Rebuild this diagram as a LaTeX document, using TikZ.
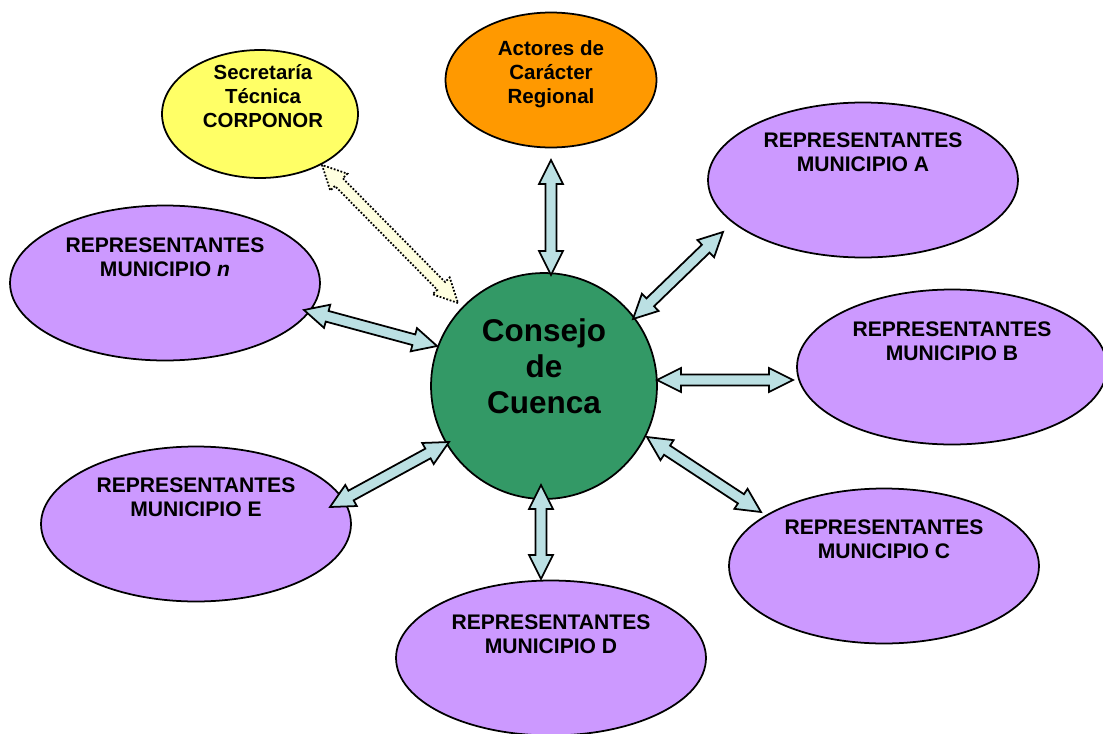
\documentclass[tikz,border=0pt]{standalone}
\usepackage{fontspec}
\setmainfont{Liberation Sans}
\usetikzlibrary{calc,shapes.geometric}

\definecolor{lila}{HTML}{CC99FF}
\definecolor{amarillo}{HTML}{FFFF66}
\definecolor{naranja}{HTML}{FF9900}
\definecolor{verde}{HTML}{339966}
\definecolor{celeste}{HTML}{BBE0E3}
\definecolor{crema}{HTML}{FFFFE0}

\newcommand{\arrHead}{0.48cm}
\newcommand{\arrHalf}{0.24cm}
\newcommand{\arrShaft}{0.11cm}
% flecha doble de bloque entre dos puntos
\newcommand{\blockarrow}[3][flecha]{%
  \draw[#1] (#2)
    -- ($(#2)!\arrHead!(#3)!\arrHalf!90:(#3)$)
    -- ($(#2)!\arrHead!(#3)!\arrShaft!90:(#3)$)
    -- ($(#3)!\arrHead!(#2)!\arrShaft!-90:(#2)$)
    -- ($(#3)!\arrHead!(#2)!\arrHalf!-90:(#2)$)
    -- (#3)
    -- ($(#3)!\arrHead!(#2)!\arrHalf!90:(#2)$)
    -- ($(#3)!\arrHead!(#2)!\arrShaft!90:(#2)$)
    -- ($(#2)!\arrHead!(#3)!\arrShaft!-90:(#3)$)
    -- ($(#2)!\arrHead!(#3)!\arrHalf!-90:(#3)$)
    -- cycle;}

\begin{document}
\begin{tikzpicture}[x=0.02cm,y=-0.02cm,
    muni/.style={ellipse,draw,fill=lila,line width=1pt,minimum width=6.2cm,minimum height=3.1cm},
    rotulo/.style={font=\bfseries\fontsize{12}{13.6}\selectfont,align=center},
    flecha/.style={fill=celeste,line width=1pt,line join=miter},
    punteada/.style={fill=crema,densely dotted,line width=1pt}]

\useasboundingbox (0,0) rectangle (1103,734);

% elipses
\node[ellipse,draw,fill=amarillo,line width=1pt,minimum width=3.92cm,minimum height=2.56cm] (se) at (260,114) {};
\node[ellipse,draw,fill=naranja,line width=1pt,minimum width=4.22cm,minimum height=2.7cm] (ac) at (551,80) {};
\node[muni] (ma) at (863,180) {};
\node[muni] (mb) at (952,367) {};
\node[muni] (mc) at (884,566) {};
\node[muni] (md) at (551,658) {};
\node[muni] (me) at (196,524) {};
\node[muni] (mn) at (165,283) {};
\node[circle,draw,fill=verde,line width=1pt,minimum size=4.52cm] (cc) at (544,386) {};

% extremos de las flechas
\coordinate (a1) at ($(cc)+(89,-67)$);
\coordinate (a2) at ($(ma)+(-140,52)$);
\coordinate (b1) at ($(cc)+(113,-6)$);
\coordinate (b2) at ($(mb)+(-159,13)$);
\coordinate (c1) at ($(cc)+(103,51)$);
\coordinate (c2) at ($(mc)+(-123,-54)$);
\coordinate (d1) at ($(cc)+(-3,99)$);
\coordinate (d2) at ($(md)+(-10,-79)$);
\coordinate (e1) at ($(cc)+(-95,56)$);
\coordinate (e2) at ($(me)+(134,-17)$);
\coordinate (n1) at ($(cc)+(-107,-40)$);
\coordinate (n2) at ($(mn)+(139,27)$);
\coordinate (r1) at ($(cc)+(7,-111)$);
\coordinate (r2) at ($(ac)+(0,80)$);
\coordinate (s1) at ($(cc)+(-86,-83)$);
\coordinate (s2) at ($(se)+(62,51)$);

\blockarrow{a1}{a2}
\blockarrow{b1}{b2}
\blockarrow{c1}{c2}
\blockarrow{d1}{d2}
\blockarrow{e1}{e2}
\blockarrow{n1}{n2}
\blockarrow{r1}{r2}
\blockarrow[punteada]{s1}{s2}

% textos
\node[rotulo,font=\bfseries\fontsize{11.6}{13.6}\selectfont] (se-t) at ($(se)+(3,-18)$) {Secretaría\\Técnica\\CORPONOR};
\node[rotulo,font=\bfseries\fontsize{11.7}{13.8}\selectfont] (ac-t) at ($(ac)+(0,-6)$) {Actores de\\Carácter\\Regional};
\node[rotulo] (ma-t) at ($(ma)+(0,-28)$) {REPRESENTANTES\\MUNICIPIO A};
\node[rotulo] (mb-t) at ($(mb)+(0,-26)$) {REPRESENTANTES\\MUNICIPIO B};
\node[rotulo] (mc-t) at ($(mc)+(0,-27)$) {REPRESENTANTES\\MUNICIPIO C};
\node[rotulo] (md-t) at ($(md)+(0,-24)$) {REPRESENTANTES\\MUNICIPIO D};
\node[rotulo] (me-t) at ($(me)+(0,-27)$) {REPRESENTANTES\\MUNICIPIO E};
\node[rotulo] (mn-t) at ($(mn)+(0,-26)$) {REPRESENTANTES\\MUNICIPIO \textit{n}};
\node[font=\bfseries\fontsize{17.9}{20.4}\selectfont,align=center] (cc-t) at ($(cc)+(0,-20)$) {Consejo\\de\\Cuenca};

\end{tikzpicture}
\end{document}
